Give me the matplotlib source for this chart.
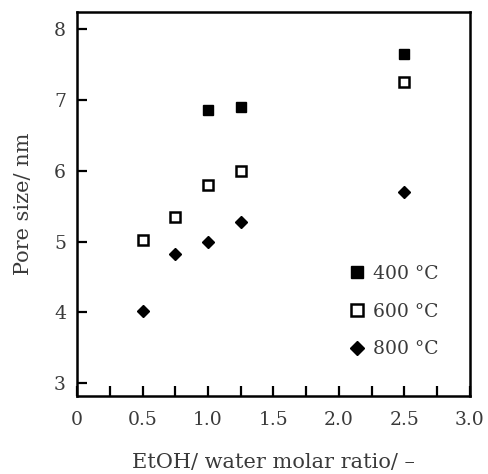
import matplotlib
matplotlib.use("Agg")
import matplotlib.pyplot as plt

x400 = [1.0, 1.25, 2.5]
y400 = [6.85, 6.9, 7.65]
x600 = [0.5, 0.75, 1.0, 1.25, 2.5]
y600 = [5.02, 5.35, 5.8, 6.0, 7.25]
x800 = [0.5, 0.75, 1.0, 1.25, 2.5]
y800 = [4.02, 4.82, 5.0, 5.28, 5.7]
labels = ["400 °C", "600 °C", "800 °C"]
xticks = [0, 0.5, 1.0, 1.5, 2.0, 2.5, 3.0]
xticklabels = ["0", "0.5", "1.0", "1.5", "2.0", "2.5", "3.0"]
yticks = [3, 4, 5, 6, 7, 8]

plt.rcParams['font.family'] = ['DejaVu Serif']
tc = '#3a3a3a'
fig = plt.figure(figsize=(4.89, 4.74), dpi=100)
ax = fig.add_axes([0.1575, 0.1646, 0.961 - 0.1575, 0.9747 - 0.1646])

ax.plot(x400, y400, 's', ms=7.5, color='black', mec='black', label=labels[0], ls='none')
ax.plot(x600, y600, 's', ms=7.5, mfc='white', mec='black', mew=1.8, label=labels[1], ls='none')
ax.plot(x800, y800, 'D', ms=6.5, color='black', label=labels[2], ls='none')

ax.set_xlim(0, 3.0)
ax.set_ylim(2.82, 8.24)
ax.set_xticks(xticks)
ax.set_xticklabels(xticklabels)
ax.set_xticks([0.25, 0.75, 1.25, 1.75, 2.25, 2.75], minor=True)
ax.set_yticks(yticks)
ax.tick_params(which='both', direction='in', length=7, width=1.6, labelsize=13.5,
               labelcolor=tc, top=False, right=False)
ax.tick_params(axis='x', which='major', pad=11)
ax.tick_params(axis='y', pad=8)
for s in ax.spines.values():
    s.set_linewidth(1.8)

ax.set_xlabel("EtOH/ water molar ratio/ –", fontsize=15, color=tc, labelpad=17)
ax.set_ylabel("Pore size/ nm", fontsize=15, color=tc, labelpad=15)

leg = ax.legend(loc='upper left', bbox_to_anchor=(0.645, 0.385), frameon=False,
                fontsize=13.5, handletextpad=0.35, handlelength=1.0, labelspacing=1.05,
                markerscale=1.15, labelcolor=tc)

fig.savefig("out.png", dpi=100)
